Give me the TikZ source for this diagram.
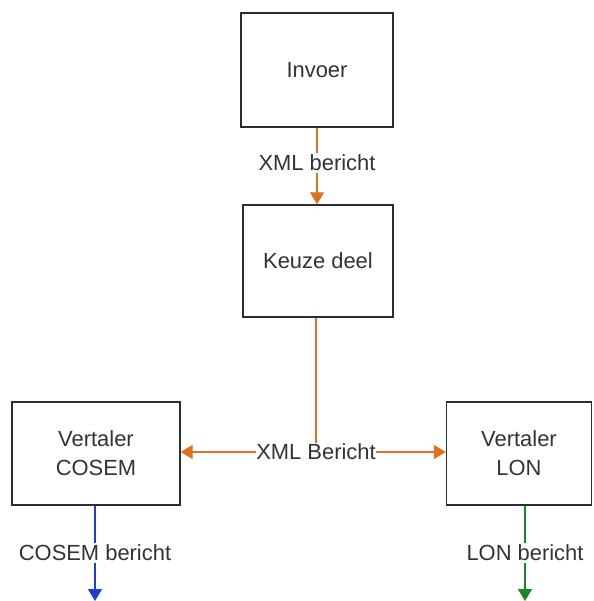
\documentclass[tikz,border=0pt]{standalone}
\usepackage{fontspec}
\setmainfont{Liberation Sans}
\usetikzlibrary{arrows.meta}
\definecolor{flowor}{RGB}{222,112,34}
\definecolor{flowbl}{RGB}{30,60,215}
\definecolor{flowgr}{RGB}{25,135,35}
\definecolor{edge}{RGB}{45,45,45}
\tikzset{
  stage/.style={draw=edge, line width=1.4bp, fill=white, minimum width=#1, align=center,
    inner sep=0pt, font=\fontsize{22}{29}\selectfont, text=black!80},
  tag/.style={fill=white, inner sep=2bp, font=\fontsize{22}{26}\selectfont, text=black!80},
  flow/.style={line width=1.3bp, -{Triangle[length=12bp,width=14bp]}},
}
\begin{document}
\begin{tikzpicture}[x=1bp, y=-1bp]
  \useasboundingbox (0,0) rectangle (594,601);
  % processing stages
  \node[stage=152bp, minimum height=114bp] (invoer) at (317,70) {Invoer};
  \node[stage=150bp, minimum height=112bp] (keuze) at (318,261) {Keuze deel};
  \node[stage=168bp, minimum height=103bp] (cosem) at (96,453.5) {Vertaler\\COSEM};
  \node[stage=145bp, minimum height=103bp] (lon) at (519,453.5) {Vertaler\\LON};
  % message labels
  \node[tag] (xml1) at (317,163) {XML bericht};
  \node[tag, inner xsep=0pt] (xml2) at (316,452) {XML Bericht};
  \node[tag] (cosemmsg) at (95,553) {COSEM bericht};
  \node[tag] (lonmsg) at (525,553) {LON bericht};
  \coordinate (cosemout) at (95,601);
  \coordinate (lonout) at (525,601);
  % message flow
  \draw[flowor, line width=1.3bp] (invoer.south -| xml1) -- (xml1.north);
  \draw[flowor, flow] (xml1.south) -- (keuze.north -| xml1);
  \draw[flowor, line width=1.3bp] (keuze.south -| xml2) -- ([yshift=-1bp]xml2.north);
  \draw[flowor, flow] (xml2.west) -- (cosem.east |- xml2);
  \draw[flowor, flow] (xml2.east) -- (lon.west |- xml2);
  \draw[flowbl, line width=1.3bp] (cosem.south -| cosemmsg) -- (cosemmsg.north);
  \draw[flowbl, flow] (cosemmsg.south) -- (cosemout);
  \draw[flowgr, line width=1.3bp] (lon.south -| lonmsg) -- (lonmsg.north);
  \draw[flowgr, flow] (lonmsg.south) -- (lonout);
\end{tikzpicture}
\end{document}
